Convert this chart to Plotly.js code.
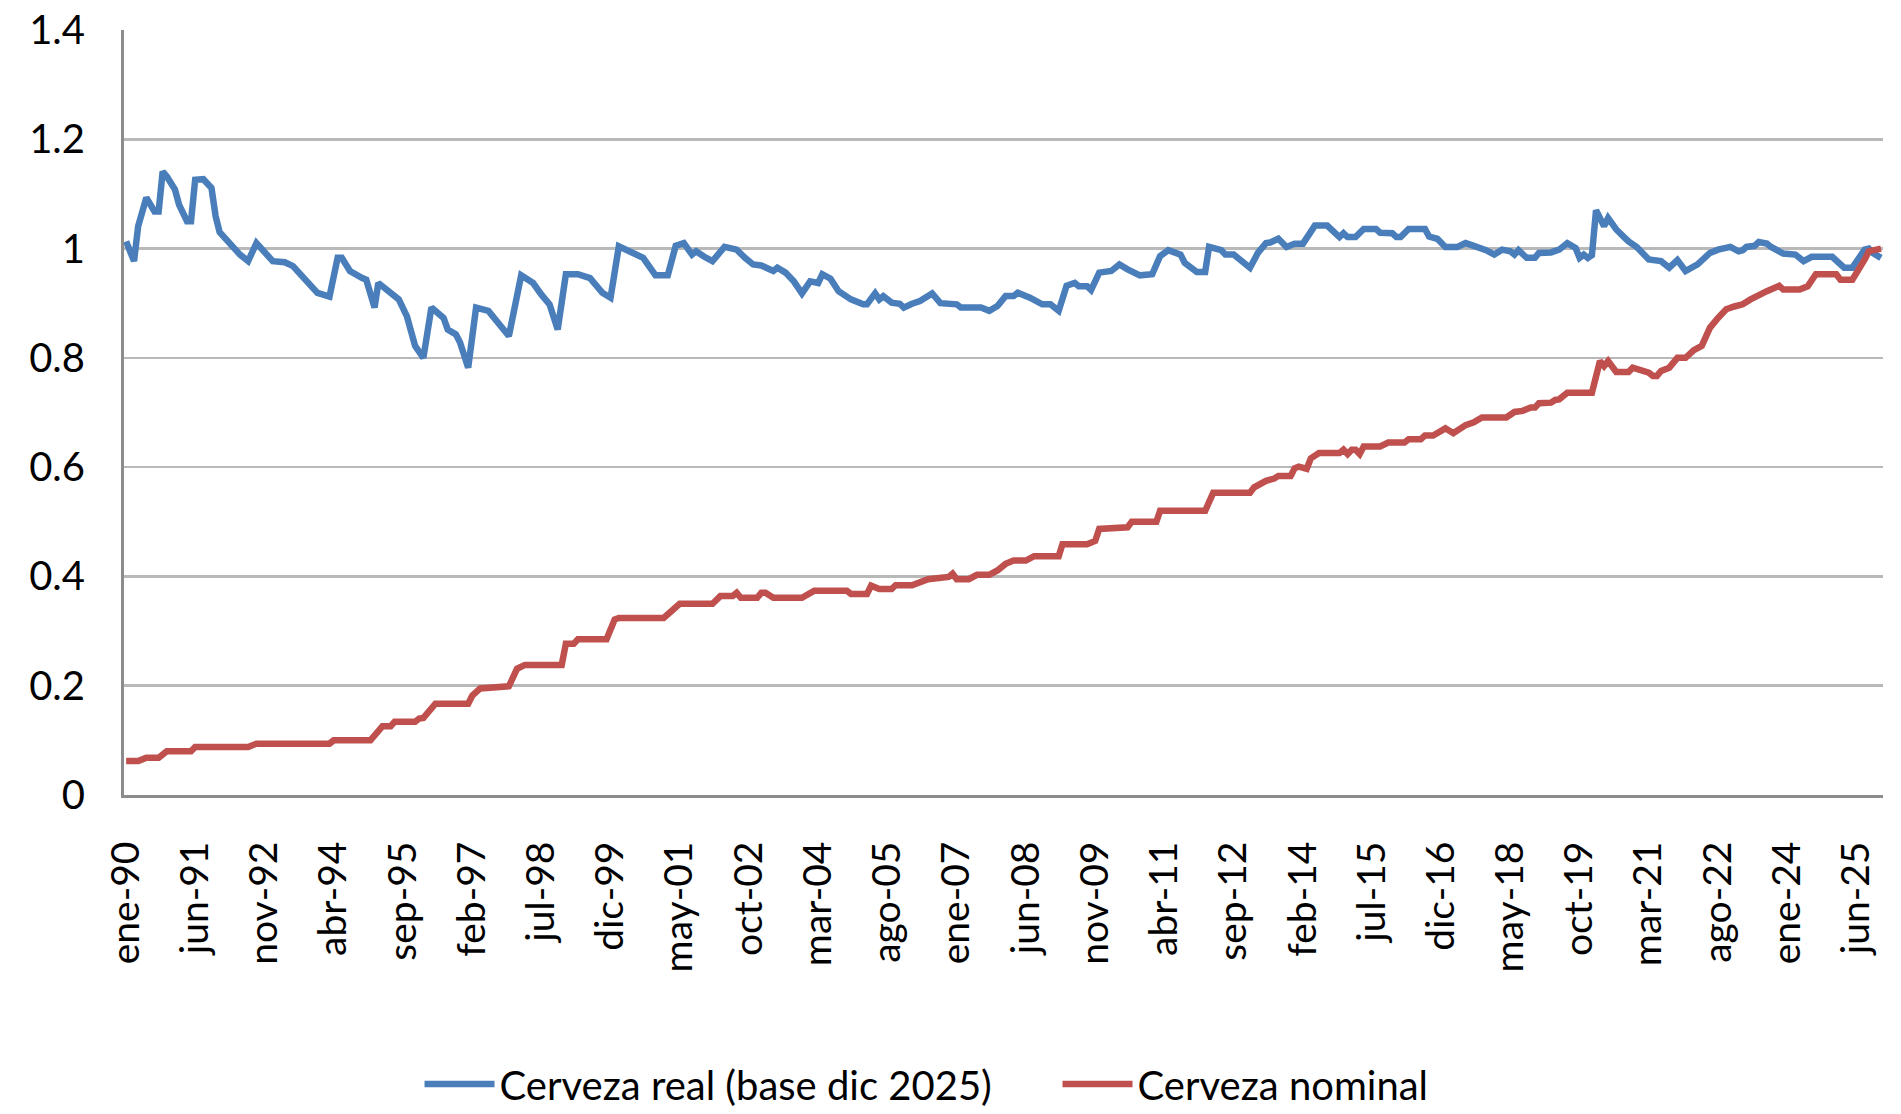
<!DOCTYPE html>
<html>
<head>
<meta charset="utf-8">
<script src="https://cdn.plot.ly/plotly-3.0.1.min.js"></script>
<style>
  html, body { margin: 0; padding: 0; background: #ffffff; overflow: hidden; width: 1901px; height: 1114px; }
  #wrap { width: 1901px; height: 1114px; overflow: hidden; position: relative; }
  #chart { width: 1901px; height: 1140px; }
</style>
</head>
<body>
<div id="wrap"><div id="chart"></div></div>
<script>
// ---- Data ----
// Months counted from ene-90 (0 = ene-90, 431 = dic-25)
const tickDates = ["1990-01","1991-06","1992-11","1994-04","1995-09","1997-02","1998-07","1999-12","2001-05","2002-10",
                   "2004-03","2005-08","2007-01","2008-06","2009-11","2011-04","2012-09","2014-02","2015-07","2016-12",
                   "2018-05","2019-10","2021-03","2022-08","2024-01","2025-06"];
const tickLabels = ["ene-90","jun-91","nov-92","abr-94","sep-95","feb-97","jul-98","dic-99","may-01","oct-02",
                    "mar-04","ago-05","ene-07","jun-08","nov-09","abr-11","sep-12","feb-14","jul-15","dic-16",
                    "may-18","oct-19","mar-21","ago-22","ene-24","jun-25"];

const realMonths = [
  0,2,3,5,7,8,9,10,12,13,
  15,16,17,19,21,22,23,26,28,30,
  32,36,39,41,44,47,50,52,53,55,
  58,59,61,62,64,67,69,71,73,75,
  78,79,81,82,84,86,89,92,94,97,
  100,102,104,106,108,111,114,117,119,121,
  124,127,130,133,135,137,139,140,142,144,
  147,150,152,154,156,159,160,162,164,166,
  168,170,171,173,175,178,181,182,184,185,
  186,188,190,191,193,195,198,200,204,205,
  210,212,214,216,218,219,222,225,227,229,
  231,233,234,236,237,239,242,244,246,249,
  252,254,256,259,260,263,265,266,269,270,
  272,274,276,278,280,281,283,285,287,289,
  292,295,298,299,300,302,304,307,308,311,
  312,313,315,319,320,322,324,327,329,331,
  332,334,336,338,340,341,342,344,346,347,
  350,352,354,356,357,358,359,360,361,363,
  364,366,368,369,371,374,377,379,381,383,
  386,389,391,394,396,397,398,400,401,403,
  404,407,410,412,414,419,422,424,427,428,
  429,431
];
const realValues = [
  1.013,0.977,1.041,1.093,1.068,1.068,1.141,1.132,1.108,1.080,
  1.050,1.050,1.126,1.127,1.111,1.059,1.030,1.004,0.989,0.977,
  1.010,0.977,0.975,0.968,0.943,0.919,0.912,0.983,0.983,0.959,
  0.946,0.943,0.892,0.937,0.925,0.907,0.876,0.822,0.800,0.892,
  0.873,0.852,0.843,0.828,0.782,0.892,0.886,0.861,0.840,0.951,
  0.937,0.916,0.898,0.852,0.953,0.953,0.946,0.919,0.910,1.004,
  0.992,0.983,0.951,0.951,1.005,1.010,0.989,0.995,0.985,0.977,
  1.003,0.998,0.983,0.971,0.969,0.959,0.965,0.956,0.940,0.918,
  0.940,0.937,0.953,0.945,0.922,0.907,0.898,0.898,0.918,0.907,
  0.913,0.901,0.899,0.892,0.899,0.904,0.918,0.900,0.898,0.892,
  0.892,0.886,0.895,0.913,0.913,0.919,0.910,0.898,0.898,0.886,
  0.932,0.937,0.931,0.931,0.924,0.956,0.959,0.971,0.962,0.951,
  0.953,0.986,0.997,0.989,0.974,0.957,0.957,1.003,0.997,0.989,
  0.989,0.977,0.965,0.992,1.010,1.011,1.018,1.003,1.009,1.009,
  1.042,1.042,1.021,1.028,1.021,1.021,1.036,1.036,1.029,1.028,
  1.021,1.021,1.036,1.036,1.022,1.018,1.003,1.003,1.010,1.005,
  1.003,0.997,0.989,0.998,0.995,0.989,0.997,0.983,0.983,0.992,
  0.993,0.998,1.010,1.001,0.983,0.989,0.983,0.988,1.070,1.041,
  1.056,1.035,1.020,1.013,1.003,0.980,0.977,0.965,0.979,0.959,
  0.971,0.992,0.998,1.003,0.995,0.997,1.003,1.005,1.012,1.009,
  1.003,0.991,0.989,0.977,0.985,0.985,0.965,0.965,0.998,1.000,
  0.992,0.983
];

const nominalMonths = [
  0,3,5,8,10,16,17,30,32,50,
  51,60,62,63,65,66,71,72,73,75,
  76,84,85,87,94,96,98,107,108,110,
  111,118,120,121,132,136,144,146,149,150,
  151,155,156,157,159,166,169,177,178,182,
  183,185,188,189,193,197,202,203,204,207,
  209,212,214,216,218,221,223,229,230,236,
  238,239,246,247,253,254,265,267,276,277,
  280,282,283,286,287,288,290,291,293,298,
  299,300,301,302,303,304,308,310,314,315,
  318,319,321,324,326,329,331,333,339,341,
  343,345,346,347,350,351,352,354,360,362,
  363,364,366,369,370,374,375,376,377,379,
  381,383,385,387,389,391,393,395,397,399,
  401,403,406,407,411,413,415,420,421,424,
  427,428,431
];
const nominalValues = [
  0.062,0.062,0.068,0.068,0.080,0.080,0.088,0.088,0.094,0.094,
  0.100,0.100,0.117,0.126,0.126,0.134,0.134,0.140,0.141,0.159,
  0.167,0.167,0.182,0.195,0.199,0.231,0.238,0.238,0.277,0.277,
  0.285,0.285,0.321,0.324,0.324,0.350,0.350,0.364,0.364,0.370,
  0.361,0.361,0.370,0.370,0.361,0.361,0.374,0.374,0.368,0.368,
  0.383,0.377,0.377,0.384,0.384,0.395,0.399,0.405,0.395,0.395,
  0.403,0.403,0.411,0.423,0.429,0.429,0.437,0.437,0.459,0.459,
  0.465,0.487,0.490,0.500,0.500,0.520,0.520,0.553,0.553,0.563,
  0.575,0.579,0.584,0.584,0.598,0.601,0.597,0.616,0.626,0.626,
  0.632,0.624,0.632,0.632,0.624,0.638,0.638,0.645,0.645,0.651,
  0.651,0.658,0.658,0.671,0.662,0.677,0.682,0.691,0.691,0.701,
  0.703,0.709,0.709,0.717,0.718,0.723,0.724,0.736,0.736,0.794,
  0.785,0.794,0.774,0.774,0.782,0.773,0.767,0.767,0.776,0.782,
  0.800,0.800,0.814,0.822,0.855,0.873,0.889,0.894,0.898,0.907,
  0.913,0.922,0.932,0.925,0.925,0.931,0.953,0.953,0.943,0.943,
  0.980,0.995,1.000
];

const seriesNames = ["Cerveza real (base dic 2025)", "Cerveza nominal"];
const seriesColors = ["#4a7ebb", "#c0504d"];

// month offset -> "YYYY-MM-01" date string
function monthToDate(m) {
  const y = 1990 + Math.floor(m / 12);
  const mo = (m % 12) + 1;
  return y + "-" + (mo < 10 ? "0" + mo : "" + mo) + "-01";
}

const FONT = "Lato, 'Open Sans', sans-serif";

const traces = [
  {
    x: realMonths.map(monthToDate), y: realValues,
    type: "scatter", mode: "lines", name: seriesNames[0],
    line: { color: seriesColors[0], width: 6.5 }
  },
  {
    x: nominalMonths.map(monthToDate), y: nominalValues,
    type: "scatter", mode: "lines", name: seriesNames[1],
    line: { color: seriesColors[1], width: 6.5 }
  }
];

// Figure is a little taller than the 1114 px window so the legend can sit
// near the bottom edge, as in the reference; the extra part is clipped.
const FIG_H = 1140;
const PLOT_TOP = 30, PLOT_BOTTOM = 795;
const plotH = PLOT_BOTTOM - PLOT_TOP;
const legendCenterY = 1084;

const layout = {
  width: 1901, height: FIG_H,
  margin: { l: 124, r: 18, t: PLOT_TOP, b: FIG_H - PLOT_BOTTOM, pad: 0 },
  paper_bgcolor: "#ffffff", plot_bgcolor: "#ffffff",
  font: { family: FONT, size: 40, color: "#000000" },
  showlegend: true,
  xaxis: {
    type: "date",
    range: ["1989-12-16", "2025-12-16"],
    tickmode: "array", tickvals: tickDates, ticktext: tickLabels,
    tickangle: -90,
    ticks: "",
    ticklabelstandoff: 28,
    tickfont: { family: FONT, size: 39, color: "#000000" },
    showgrid: false, zeroline: false,
    showline: true, linecolor: "#8c8c8c", linewidth: 3
  },
  yaxis: {
    range: [0, 1.4],
    tickmode: "linear", tick0: 0, dtick: 0.2,
    ticks: "",
    ticklabelstandoff: 28,
    tickfont: { family: FONT, size: 40, color: "#000000" },
    showgrid: true, gridcolor: "#b9b9b9", gridwidth: 2.5,
    zeroline: false,
    showline: true, linecolor: "#8c8c8c", linewidth: 3
  },
  legend: {
    orientation: "h",
    x: 0.168, xanchor: "left",
    y: -(legendCenterY - PLOT_BOTTOM) / plotH, yanchor: "middle",
    font: { family: FONT, size: 40, color: "#000000" },
    bgcolor: "rgba(0,0,0,0)",
    itemwidth: 70,
    entrywidth: 553, entrywidthmode: "pixels",
    tracegroupgap: 0
  }
};

Plotly.newPlot("chart", traces, layout, { staticPlot: true, displayModeBar: false });
</script>
</body>
</html>
